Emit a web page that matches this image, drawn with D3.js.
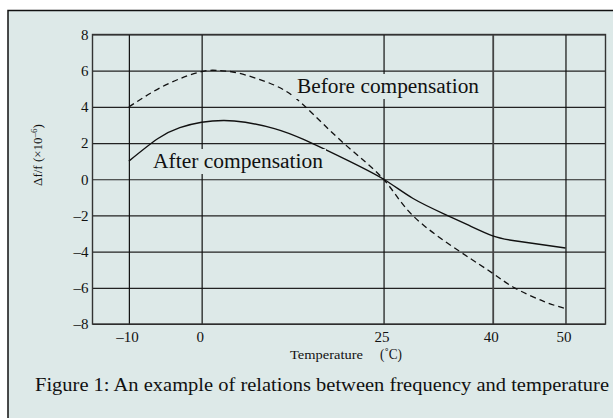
<!DOCTYPE html>
<html><head><meta charset="utf-8">
<script src="https://cdn.jsdelivr.net/npm/d3@7"></script>
<style>
html,body{margin:0;padding:0;background:#fff;}
svg{display:block;}
text{font-family:"Liberation Serif","Times New Roman",serif;fill:#111;}
</style></head>
<body>
<svg id="c" width="613" height="418"></svg>
<script>
const xTicks = [-10, 0, 25, 40, 50];
const yTicks = [-8, -6, -4, -2, 0, 2, 4, 6, 8];
const beforeTemp = [-10, -5, 0, 2.5, 5, 10, 14, 19.5, 25, 29, 35.5, 40, 43, 47, 50];
const beforeVal  = [4.0, 5.2, 5.95, 6.0, 5.87, 5.2, 4.1, 2.0, 0, -2.0, -4.0, -5.2, -6.0, -6.75, -7.15];
const afterTemp  = [-10, -6, -3, 0, 3, 6, 10, 14, 19.5, 25, 29, 33.5, 37, 40, 43, 50];
const afterVal   = [1.0, 2.25, 2.85, 3.15, 3.25, 3.15, 2.8, 2.2, 1.15, 0, -1.05, -1.95, -2.6, -3.13, -3.4, -3.8];
const seriesLabels = ["Before compensation", "After compensation"];
const caption = "Figure 1: An example of relations between frequency and temperature";

const svg = d3.select("#c");
const bg = "#dde9e8";
// outer panel
svg.append("rect").attr("x", 8).attr("y", 10.5).attr("width", 620).attr("height", 430)
  .attr("fill", bg).attr("stroke", "#111").attr("stroke-width", 1.5);

const L = 92.5, R = 605.5, T = 34.5, B = 324;
const x = d3.scaleLinear().domain([-15, 55.5]).range([L, R]);
const y = d3.scaleLinear().domain([-8, 8]).range([B, T]);
const fmt = d => (d < 0 ? "\u2013" + Math.abs(d) : String(d));

// grid
const g = svg.append("g");
g.append("g").attr("transform", `translate(${L},0)`)
  .call(d3.axisLeft(y).tickValues(yTicks).tickSize(-(R - L)).tickFormat(""))
  .call(a => a.select(".domain").remove())
  .selectAll("line").attr("stroke", "#222").attr("stroke-width", 1.2);
g.append("g").attr("transform", `translate(0,${B})`)
  .call(d3.axisBottom(x).tickValues(xTicks).tickSize(-(B - T)).tickFormat(""))
  .call(a => a.select(".domain").remove())
  .selectAll("line").attr("stroke", (d) => d === 40 ? "#444" : "#111").attr("stroke-width", d => d === 40 ? 1.8 : 1.2);
// frame
g.append("rect").attr("x", L).attr("y", T).attr("width", R - L).attr("height", B - T)
  .attr("fill", "none").attr("stroke", "#333").attr("stroke-width", 1.4);

// tick labels
const yAx = svg.append("g").attr("transform", `translate(${L - 4},0)`)
  .call(d3.axisLeft(y).tickValues(yTicks).tickSize(0).tickPadding(0).tickFormat(fmt));
yAx.select(".domain").remove();
yAx.selectAll("text").style("font-size", "15px").style("fill", "#111").attr("dy", "0.32em");
const xAx = svg.append("g").attr("transform", `translate(-2,${B + 7})`)
  .call(d3.axisBottom(x).tickValues(xTicks).tickSize(0).tickPadding(0).tickFormat(fmt));
xAx.select(".domain").remove();
xAx.selectAll("text").style("font-size", "15px").style("fill", "#111");

// axis titles
svg.append("text").attr("x", 290).attr("y", 359).style("font-size", "13px")
  .attr("textLength", 73).attr("lengthAdjust", "spacingAndGlyphs").text("Temperature");
svg.append("text").attr("x", 380).attr("y", 359).style("font-size", "14px")
  .attr("textLength", 22).attr("lengthAdjust", "spacingAndGlyphs").text("(\u02DAC)");
const yt = svg.append("text").attr("transform", "translate(42,155) rotate(-90)").attr("text-anchor", "middle").style("font-size", "13px");
yt.append("tspan").text("\u0394f/f (\u00D710");
yt.append("tspan").attr("dy", -5).style("font-size", "9px").text("\u2013" + "6");
yt.append("tspan").attr("dy", 5).text(")");

// curves
const line = d3.line().x(d => x(d[0])).y(d => y(d[1])).curve(d3.curveNatural);
const before = beforeTemp.map((t, i) => [t, beforeVal[i]]);
const after = afterTemp.map((t, i) => [t, afterVal[i]]);
svg.append("path").datum(before).attr("d", line).attr("fill", "none")
  .attr("stroke", "#111").attr("stroke-width", 1.3).attr("stroke-dasharray", "6,4");
svg.append("path").datum(after).attr("d", line).attr("fill", "none")
  .attr("stroke", "#111").attr("stroke-width", 1.4);

// series labels with background
function label(txt, tx, ty, w) {
  const r = svg.append("rect").attr("fill", bg);
  const t = svg.append("text").attr("x", tx).attr("y", ty).style("font-size", "20px")
    .attr("textLength", w).attr("lengthAdjust", "spacingAndGlyphs").text(txt);
  const b = t.node().getBBox();
  r.attr("x", b.x - 3).attr("y", b.y - 1).attr("width", b.width + 6).attr("height", b.height + 2);
}
label(seriesLabels[0], 297, 93, 182);
label(seriesLabels[1], 153, 168, 170);

// caption
svg.append("text").attr("x", 35).attr("y", 391).style("font-size", "18px")
  .attr("textLength", 574).attr("lengthAdjust", "spacingAndGlyphs").text(caption);
</script>
</body></html>
